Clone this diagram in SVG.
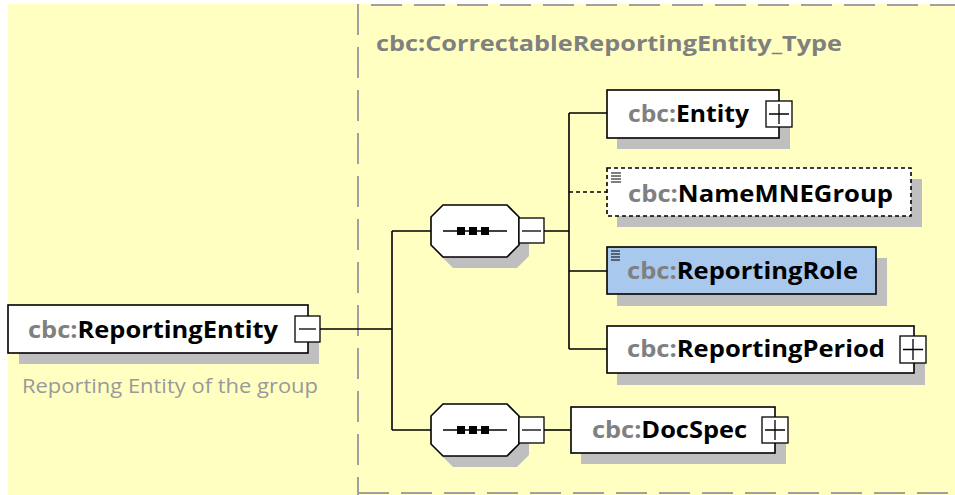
<svg xmlns="http://www.w3.org/2000/svg" width="955" height="495" viewBox="0 0 955 495">
<style>
.bg{fill:#FFFFC2}
.frame{fill:none;stroke:#A0A0A0;stroke-width:2;stroke-dasharray:31 12}
.shadow{fill:#BFBFBF}
.box{fill:#FFFFFF;stroke:#000;stroke-width:1.6}
.boxopt{fill:#FFFFFF;stroke:#000;stroke-width:1.6;stroke-dasharray:4 3}
.boxsel{fill:#A8C8EE;stroke:#000;stroke-width:1.6}
.btn{fill:#FFFFFF;stroke:#000;stroke-width:1.3}
.sign{stroke:#000;stroke-width:1.3;fill:none}
.wire{stroke:#000;stroke-width:1.6;fill:none}
.wiredash{stroke:#000;stroke-width:1.6;fill:none;stroke-dasharray:4 3}
.lbl{font-family:"Open Sans","Noto Sans","Liberation Sans",sans-serif;font-size:23px;font-weight:bold;fill:#000}
.pfx{fill:#808080}
.title{font-family:"Open Sans","Noto Sans","Liberation Sans",sans-serif;font-size:22px;font-weight:bold;fill:#808080}
.desc{font-family:"Open Sans","Noto Sans","Liberation Sans",sans-serif;font-size:20px;fill:#999999}
.doc{stroke:#000;stroke-width:1.2}
</style>
<rect class="bg" x="8" y="4" width="947" height="491"/>
<path class="frame" d="M358,508 V5 H960"/>
<path class="frame" d="M358,493 H960"/>
<text class="title" x="376" y="51" textLength="466" lengthAdjust="spacingAndGlyphs">cbc:CorrectableReportingEntity_Type</text>

<g id="connectors">
  <path class="wire" d="M320,329 H392 M392,231 V430 M392,231 H431 M392,430 H431"/>
  <path class="wire" d="M544,231 H569 M569,113 V349 M569,113 H607 M569,271 H607 M569,349 H607"/>
  <path class="wiredash" d="M569,192 H607"/>
  <path class="wire" d="M544,430 H571"/>
</g>

<g id="node-ReportingEntity">
  <rect class="shadow" x="19" y="316" width="300" height="48"/>
  <rect class="box" x="8" y="305" width="300" height="48"/>
  <text class="lbl" x="28" y="338" textLength="250" lengthAdjust="spacingAndGlyphs"><tspan class="pfx">cbc:</tspan>ReportingEntity</text>
  <rect class="btn" x="295" y="316" width="25" height="26"/>
  <path class="sign" d="M299,329 H316"/>
  <text class="desc" x="22" y="393" textLength="296" lengthAdjust="spacingAndGlyphs">Reporting Entity of the group</text>
</g>

<g id="seq-upper">
  <polygon class="shadow" points="453,216 517,216 529,228 529,256 517,268 453,268 441,256 441,228"/>
  <polygon class="box" points="443,205 507,205 519,217 519,245 507,257 443,257 431,245 431,217"/>
  <path class="wire" d="M443,231 H507"/>
  <rect x="457" y="227" width="8" height="8" fill="#000"/>
  <rect x="469" y="227" width="8" height="8" fill="#000"/>
  <rect x="481" y="227" width="8" height="8" fill="#000"/>
  <rect class="btn" x="519" y="218" width="25" height="25"/>
  <path class="sign" d="M522,231 H541"/>
</g>

<g id="seq-lower">
  <polygon class="shadow" points="453,415 517,415 529,427 529,455 517,467 453,467 441,455 441,427"/>
  <polygon class="box" points="443,404 507,404 519,416 519,444 507,456 443,456 431,444 431,416"/>
  <path class="wire" d="M443,430 H507"/>
  <rect x="457" y="426" width="8" height="8" fill="#000"/>
  <rect x="469" y="426" width="8" height="8" fill="#000"/>
  <rect x="481" y="426" width="8" height="8" fill="#000"/>
  <rect class="btn" x="519" y="417" width="25" height="26"/>
  <path class="sign" d="M522,430 H541"/>
</g>

<g id="node-Entity">
  <rect class="shadow" x="617" y="101" width="173" height="48"/>
  <rect class="box" x="607" y="90" width="172" height="48"/>
  <text class="lbl" x="628" y="122" textLength="121" lengthAdjust="spacingAndGlyphs"><tspan class="pfx">cbc:</tspan>Entity</text>
  <rect class="btn" x="766" y="101" width="26" height="26"/>
  <path class="sign" d="M769,114 H789 M779,104 V124"/>
</g>

<g id="node-NameMNEGroup">
  <rect class="shadow" x="617" y="179" width="305" height="48"/>
  <rect class="boxopt" x="607" y="168" width="304" height="48"/>
  <path class="doc" d="M611,173 H621 M611,176 H621 M611,179 H621 M611,182 H621"/>
  <text class="lbl" x="628" y="202" textLength="265" lengthAdjust="spacingAndGlyphs"><tspan class="pfx">cbc:</tspan>NameMNEGroup</text>
</g>

<g id="node-ReportingRole">
  <rect class="shadow" x="617" y="258" width="270" height="48"/>
  <rect class="boxsel" x="607" y="247" width="269" height="47"/>
  <path class="doc" d="M611,251 H620 M611,254 H620 M611,257 H620 M611,260 H620"/>
  <text class="lbl" x="627" y="279" textLength="231" lengthAdjust="spacingAndGlyphs"><tspan class="pfx">cbc:</tspan>ReportingRole</text>
</g>

<g id="node-ReportingPeriod">
  <rect class="shadow" x="617" y="337" width="308" height="48"/>
  <rect class="box" x="607" y="326" width="307" height="47"/>
  <text class="lbl" x="627" y="357" textLength="258" lengthAdjust="spacingAndGlyphs"><tspan class="pfx">cbc:</tspan>ReportingPeriod</text>
  <rect class="btn" x="900" y="336" width="26" height="27"/>
  <path class="sign" d="M903,349.5 H923 M913,339 V360"/>
</g>

<g id="node-DocSpec">
  <rect class="shadow" x="581" y="418" width="205" height="46"/>
  <rect class="box" x="571" y="407" width="204" height="46"/>
  <text class="lbl" x="592" y="438" textLength="155" lengthAdjust="spacingAndGlyphs"><tspan class="pfx">cbc:</tspan>DocSpec</text>
  <rect class="btn" x="762" y="417" width="26" height="26"/>
  <path class="sign" d="M765,430 H785 M775,420 V440"/>
</g>
</svg>
